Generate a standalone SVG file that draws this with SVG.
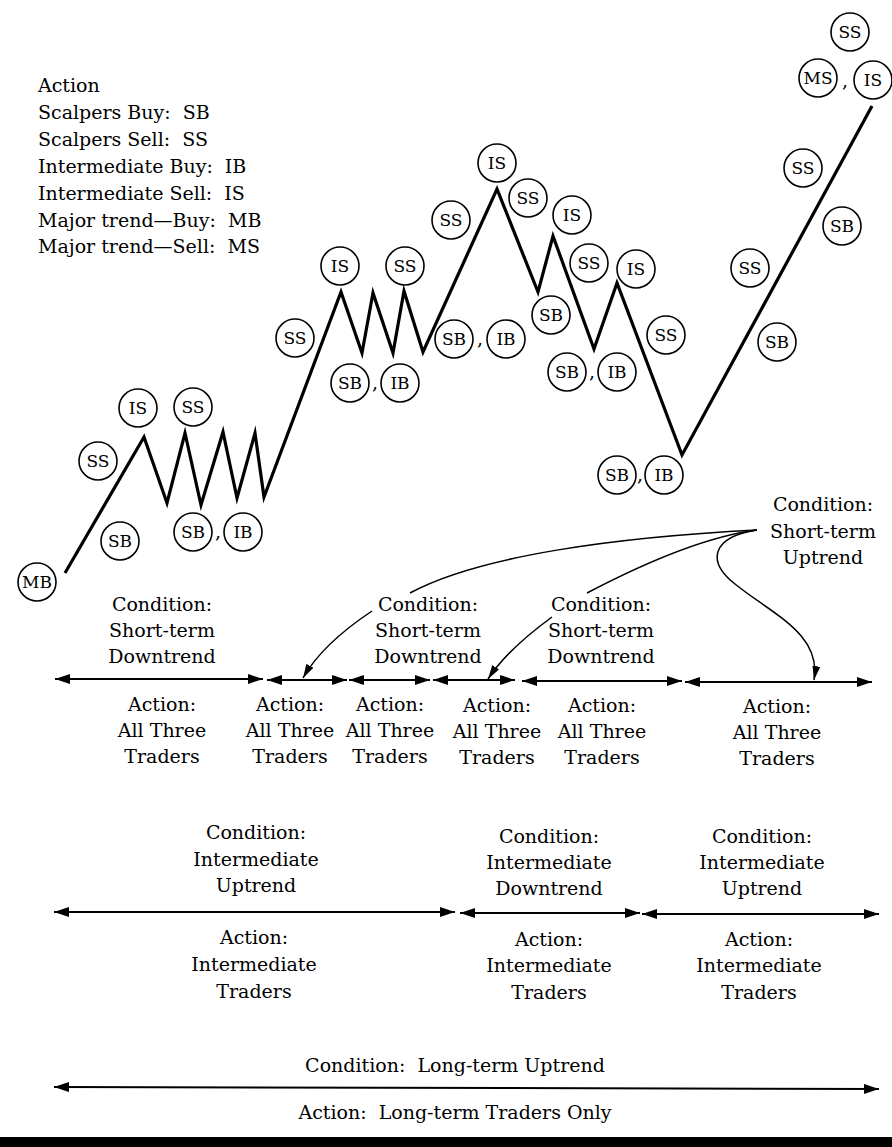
<svg xmlns="http://www.w3.org/2000/svg" width="892" height="1147" viewBox="0 0 892 1147">
<style>
text{font-family:"DejaVu Serif","Liberation Serif",serif;fill:#000;white-space:pre}
.t{font-size:19px}
.m{text-anchor:middle}
.node circle{fill:none;stroke:#000;stroke-width:1.6}
.node text{font-size:17px;text-anchor:middle}
.trend{fill:none;stroke:#000;stroke-width:3.2;stroke-linejoin:miter;stroke-miterlimit:20}
.span{stroke:#000;stroke-width:2;marker-start:url(#ah);marker-end:url(#ah)}
.pointer{fill:none;stroke:#000;stroke-width:1.5;marker-end:url(#ap)}
</style>
<defs>
<marker id="ah" viewBox="0 0 15 10" refX="15" refY="5" markerWidth="15" markerHeight="10" markerUnits="userSpaceOnUse" orient="auto-start-reverse"><path d="M0,0L15,5L0,10z"/></marker>
<marker id="ap" viewBox="0 0 14 8" refX="14" refY="4" markerWidth="14" markerHeight="8" markerUnits="userSpaceOnUse" orient="auto"><path d="M0,0L14,4L0,8z"/></marker>
</defs>
<rect width="892" height="1147" fill="#fff"/>

<g id="legend" class="t">
<text x="38" y="92">Action</text>
<text x="38" y="119">Scalpers Buy:  SB</text>
<text x="38" y="146">Scalpers Sell:  SS</text>
<text x="38" y="173">Intermediate Buy:  IB</text>
<text x="38" y="200">Intermediate Sell:  IS</text>
<text x="38" y="227">Major trend—Buy:  MB</text>
<text x="38" y="253">Major trend—Sell:  MS</text>
</g>

<g id="connectors">
<polyline id="price" class="trend" points="65,573 144,437 167,503 185,433 201,505 223,432 237,498 255,433 264,497 341,292 362,353 373,293 393,353 404,291 423,352 497,189 538,292 553,236 594,349 617,283 682,455 872,106"/>
<line class="span" x1="55" y1="679" x2="263" y2="679"/>
<line class="span" x1="267" y1="680" x2="347" y2="680"/>
<line class="span" x1="349" y1="680" x2="430" y2="680"/>
<line class="span" x1="433" y1="680" x2="515" y2="680"/>
<line class="span" x1="522" y1="681" x2="682" y2="681"/>
<line class="span" x1="685" y1="682" x2="872" y2="682"/>
<path class="pointer" d="M757,530 C620,537 480,555 410,593 M372,611 C342,631 316,655 303,678"/>
<path class="pointer" d="M757,530 C710,536 650,560 587,593 M552,617 C526,636 503,656 488,679"/>
<path class="pointer" d="M757,530 C712,537 706,561 735,584 C772,614 822,634 814,680"/>
<line class="span" x1="54" y1="912" x2="455" y2="912"/>
<line class="span" x1="460" y1="913" x2="640" y2="913"/>
<line class="span" x1="642" y1="914" x2="879" y2="914"/>
<line class="span" x1="54" y1="1087" x2="879" y2="1089"/>
</g>

<g id="n1" class="node"><circle cx="37" cy="582" r="19"/><text x="37" y="588">MB</text></g>
<g id="n2" class="node"><circle cx="98" cy="461" r="19"/><text x="98" y="467">SS</text></g>
<g id="n3" class="node"><circle cx="120" cy="541" r="19"/><text x="120" y="547">SB</text></g>
<g id="n4" class="node"><circle cx="138" cy="408" r="19"/><text x="138" y="414">IS</text></g>
<g id="n5" class="node"><circle cx="193" cy="407" r="19"/><text x="193" y="413">SS</text></g>
<g id="n6" class="node"><circle cx="193" cy="532" r="19"/><text x="193" y="538">SB</text></g>
<g id="n7" class="node"><circle cx="243" cy="532" r="19"/><text x="243" y="538">IB</text></g>
<g id="n8" class="node"><circle cx="295" cy="338" r="19"/><text x="295" y="344">SS</text></g>
<g id="n9" class="node"><circle cx="340" cy="266" r="19"/><text x="340" y="272">IS</text></g>
<g id="n10" class="node"><circle cx="405" cy="266" r="19"/><text x="405" y="272">SS</text></g>
<g id="n11" class="node"><circle cx="350" cy="383" r="19"/><text x="350" y="389">SB</text></g>
<g id="n12" class="node"><circle cx="400" cy="383" r="19"/><text x="400" y="389">IB</text></g>
<g id="n13" class="node"><circle cx="454" cy="339" r="19"/><text x="454" y="345">SB</text></g>
<g id="n14" class="node"><circle cx="506" cy="339" r="19"/><text x="506" y="345">IB</text></g>
<g id="n15" class="node"><circle cx="451" cy="220" r="19"/><text x="451" y="226">SS</text></g>
<g id="n16" class="node"><circle cx="497" cy="163" r="19"/><text x="497" y="169">IS</text></g>
<g id="n17" class="node"><circle cx="528" cy="198" r="19"/><text x="528" y="204">SS</text></g>
<g id="n18" class="node"><circle cx="572" cy="215" r="19"/><text x="572" y="221">IS</text></g>
<g id="n19" class="node"><circle cx="551" cy="315" r="19"/><text x="551" y="321">SB</text></g>
<g id="n20" class="node"><circle cx="589" cy="263" r="19"/><text x="589" y="269">SS</text></g>
<g id="n21" class="node"><circle cx="636" cy="269" r="19"/><text x="636" y="275">IS</text></g>
<g id="n22" class="node"><circle cx="567" cy="372" r="19"/><text x="567" y="378">SB</text></g>
<g id="n23" class="node"><circle cx="617" cy="372" r="19"/><text x="617" y="378">IB</text></g>
<g id="n24" class="node"><circle cx="666" cy="335" r="19"/><text x="666" y="341">SS</text></g>
<g id="n25" class="node"><circle cx="617" cy="475" r="19"/><text x="617" y="481">SB</text></g>
<g id="n26" class="node"><circle cx="664" cy="475" r="19"/><text x="664" y="481">IB</text></g>
<g id="n27" class="node"><circle cx="750" cy="268" r="19"/><text x="750" y="274">SS</text></g>
<g id="n28" class="node"><circle cx="777" cy="342" r="19"/><text x="777" y="348">SB</text></g>
<g id="n29" class="node"><circle cx="803" cy="168" r="19"/><text x="803" y="174">SS</text></g>
<g id="n30" class="node"><circle cx="842" cy="226" r="19"/><text x="842" y="232">SB</text></g>
<g id="n31" class="node"><circle cx="850" cy="32" r="19"/><text x="850" y="38">SS</text></g>
<g id="n32" class="node"><circle cx="818" cy="78" r="19"/><text x="818" y="84">MS</text></g>
<g id="n33" class="node"><circle cx="873" cy="80" r="19"/><text x="873" y="86">IS</text></g>

<g id="commas" class="t m">
<text x="218" y="538">,</text>
<text x="375" y="389">,</text>
<text x="480" y="345">,</text>
<text x="592" y="378">,</text>
<text x="640" y="481">,</text>
<text x="845" y="87">,</text>
</g>

<g id="short-term" class="t m">
<text x="162" y="611">Condition:</text><text x="162" y="637">Short-term</text><text x="162" y="663">Downtrend</text>
<text x="428" y="611">Condition:</text><text x="428" y="637">Short-term</text><text x="428" y="663">Downtrend</text>
<text x="601" y="611">Condition:</text><text x="601" y="637">Short-term</text><text x="601" y="663">Downtrend</text>
<text x="823" y="511">Condition:</text><text x="823" y="538">Short-term</text><text x="823" y="564">Uptrend</text>
<text x="162" y="711">Action:</text><text x="162" y="737">All Three</text><text x="162" y="763">Traders</text>
<text x="290" y="711">Action:</text><text x="290" y="737">All Three</text><text x="290" y="763">Traders</text>
<text x="390" y="711">Action:</text><text x="390" y="737">All Three</text><text x="390" y="763">Traders</text>
<text x="497" y="712">Action:</text><text x="497" y="738">All Three</text><text x="497" y="764">Traders</text>
<text x="602" y="712">Action:</text><text x="602" y="738">All Three</text><text x="602" y="764">Traders</text>
<text x="777" y="713">Action:</text><text x="777" y="739">All Three</text><text x="777" y="765">Traders</text>
</g>

<g id="intermediate" class="t m">
<text x="256" y="839">Condition:</text><text x="256" y="866">Intermediate</text><text x="256" y="892">Uptrend</text>
<text x="549" y="843">Condition:</text><text x="549" y="869">Intermediate</text><text x="549" y="895">Downtrend</text>
<text x="762" y="843">Condition:</text><text x="762" y="869">Intermediate</text><text x="762" y="895">Uptrend</text>
<text x="254" y="944">Action:</text><text x="254" y="971">Intermediate</text><text x="254" y="998">Traders</text>
<text x="549" y="946">Action:</text><text x="549" y="972">Intermediate</text><text x="549" y="999">Traders</text>
<text x="759" y="946">Action:</text><text x="759" y="972">Intermediate</text><text x="759" y="999">Traders</text>
</g>

<g id="long-term" class="t m">
<text x="455" y="1072">Condition:  Long-term Uptrend</text>
<text x="455" y="1119">Action:  Long-term Traders Only</text>
</g>

<rect id="bar" x="0" y="1137" width="892" height="10" fill="#000"/>
</svg>
